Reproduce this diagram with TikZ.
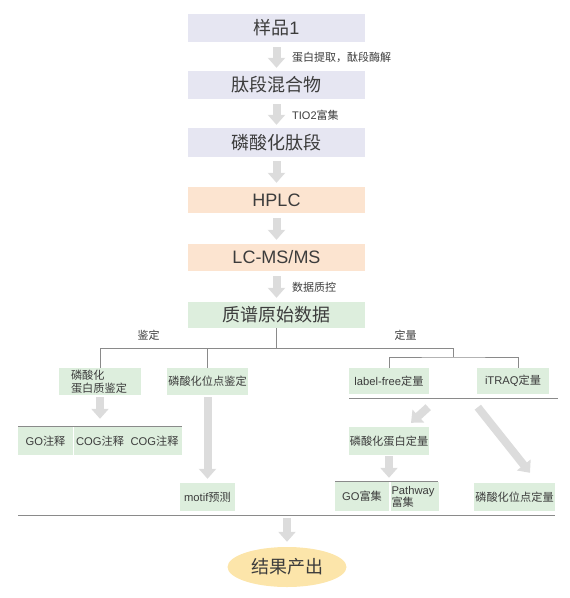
\documentclass[tikz,border=0pt]{standalone}
\usepackage{fontspec}
\setmainfont{Liberation Sans}
\newfontfamily\cj{Noto Sans CJK SC}
\usetikzlibrary{arrows.meta,shapes.geometric}
\definecolor{lav}{HTML}{E6E6F2}
\definecolor{peach}{HTML}{FCE4D0}
\definecolor{mint}{HTML}{DDEEDD}
\definecolor{gold}{HTML}{FCE5AA}
\definecolor{arrc}{HTML}{DCDCDC}
\definecolor{lnc}{HTML}{8A8A8A}
\definecolor{txt}{HTML}{3C3C3C}
\tikzset{
  big/.style={minimum width=177pt, minimum height=27pt, inner sep=0pt, text=txt, font=\fontsize{18}{21}\selectfont},
  box/.style={fill=mint, inner sep=0pt, text=txt, font=\fontsize{11.2}{13}\selectfont},
  lbl/.style={inner sep=0pt, text=txt, font=\fontsize{11}{12}\selectfont},
  fat/.style={draw=arrc, line width=8pt, -{Triangle[width=17pt,length=10pt]}},
  tree/.style={draw=lnc, line width=0.9pt},
}
\begin{document}
\begin{tikzpicture}[x=1pt,y=-1pt]
\useasboundingbox (0,0) rectangle (570,598);
% main column
\node[big, fill=lav, minimum height=28pt] (s1) at (276.5,28) {{\cj 样品}1};
\node[big, fill=lav, minimum height=28pt] (mix) at (276.5,85) {\cj 肽段混合物};
\node[big, fill=lav, minimum height=29pt] (pp) at (276.5,142.5) {\cj 磷酸化肽段};
\node[big, fill=peach, minimum height=26pt] (hplc) at (276.5,200) {HPLC};
\node[big, fill=peach] (lcms) at (276.5,257.5) {LC-MS/MS};
\node[big, fill=mint, minimum height=26pt] (raw) at (276.5,315) {\cj 质谱原始数据};
\draw[fat, shorten <=5pt, shorten >=3pt] (s1.south) -- (mix.north);
\draw[fat, shorten <=5pt, shorten >=3pt] (mix.south) -- (pp.north);
\draw[fat, shorten <=4pt, shorten >=4pt] (pp.south) -- (hplc.north);
\draw[fat, shorten <=5pt, shorten >=4pt] (hplc.south) -- (lcms.north);
\draw[fat, shorten <=5pt, shorten >=4pt] (lcms.south) -- (raw.north);
\node[lbl, anchor=west] (l1) at (292,57) {\cj 蛋白提取，酞段酶解};
\node[lbl, anchor=west] (l2) at (292,115) {TIO2{\cj 富集}};
\node[lbl, anchor=west] (l3) at (292,287) {\cj 数据质控};
% second level
\node[box, minimum width=82pt, minimum height=27pt, text width=58pt, inner xsep=12pt, align=left] (A1) at (100,381.5) {\cj 磷酸化\\蛋白质鉴定};
\node[box, minimum width=81pt, minimum height=27pt] (A2) at (207.5,381.5) {\cj 磷酸化位点鉴定};
\node[box, minimum width=80pt, minimum height=26pt] (B1) at (389,381) {label-free{\cj 定量}};
\node[box, minimum width=72pt, minimum height=26pt] (B2) at (513,381) {iTRAQ{\cj 定量}};
\node[lbl] (jd) at (148.5,335) {\cj 鉴定};
\node[lbl] (dl) at (405.5,335) {\cj 定量};
% tree lines
\coordinate (jL) at (100,348);
\coordinate (jR) at (453,348);
\coordinate (jQ) at (453,357);
\coordinate (jB2) at (518,357);
\draw[tree] (raw.south) -- (raw.south |- jL);
\draw[tree] (A1.north) |- (jR) -- (jQ);
\draw[tree] (A2.north) -- (A2.north |- jL);
\draw[tree] (B1.north) |- (jQ) -- (jB2) -- (jB2 |- B2.north);
% rules
\coordinate (rB) at (349,398);
\draw[tree] (rB) -- ++(209,0);
\coordinate (rG) at (18,426);
\draw[tree] (rG) -- ++(164,0);
\coordinate (rE) at (335,481);
\draw[tree] (rE) -- ++(103,0);
\coordinate (rBot) at (18,515);
\coordinate (rBotR) at (555,515);
\draw[tree] (rBot) -- (rBotR);
% third level left
\node[box, minimum width=55pt, minimum height=28pt] (G1) at (45.5,441) {GO{\cj 注释}};
\node[box, minimum width=54pt, minimum height=28pt] (G2) at (100,441) {COG{\cj 注释}};
\node[box, minimum width=55pt, minimum height=28pt] (G3) at (154.5,441) {COG{\cj 注释}};
\draw[white, line width=1pt] (G1.north east) -- (G1.south east);
\node[box, minimum width=55pt, minimum height=28pt] (motif) at (207.5,497) {motif{\cj 预测}};
\draw[fat, shorten <=2pt, shorten >=8pt] (A1.south) -- (A1.south |- G2.north);
\draw[fat, shorten <=2pt, shorten >=4pt] (A2.south) -- (motif.north);
% third level right
\node[box, minimum width=80pt, minimum height=28pt] (pq) at (389,441) {\cj 磷酸化蛋白定量};
\node[box, minimum width=54pt, minimum height=29pt] (GOe) at (362,496.5) {GO{\cj 富集}};
\node[box, minimum width=48pt, minimum height=29pt, text width=46pt, inner xsep=1pt, align=left, font=\fontsize{11.2}{12}\selectfont] (Path) at (414.5,496.5) {Pathway\\{\cj 富集}};
\draw[white, line width=1pt] (GOe.north east) -- (GOe.south east);
\node[box, minimum width=81pt, minimum height=28pt] (pos) at (514.5,497) {\cj 磷酸化位点定量};
\draw[fat] ([shift={(-1,13)}]B1.south east) -- ([shift={(22,-4)}]pq.north);
\draw[fat] ([shift={(1,13)}]B2.south west) -- ([shift={(15.5,-10)}]pos.north);
\draw[fat, shorten <=1pt, shorten >=4pt] (pq.south) -- (pq.south |- GOe.north);
% result
\node[ellipse, fill=gold, minimum width=119pt, minimum height=40pt, inner sep=0pt, text=txt, font=\fontsize{18}{21}\selectfont] (res) at (287,567) {\cj 结果产出};
\coordinate (bA) at (287,515);
\draw[fat, shorten <=3pt, shorten >=5pt] (bA) -- (res.north);
\end{tikzpicture}
\end{document}
